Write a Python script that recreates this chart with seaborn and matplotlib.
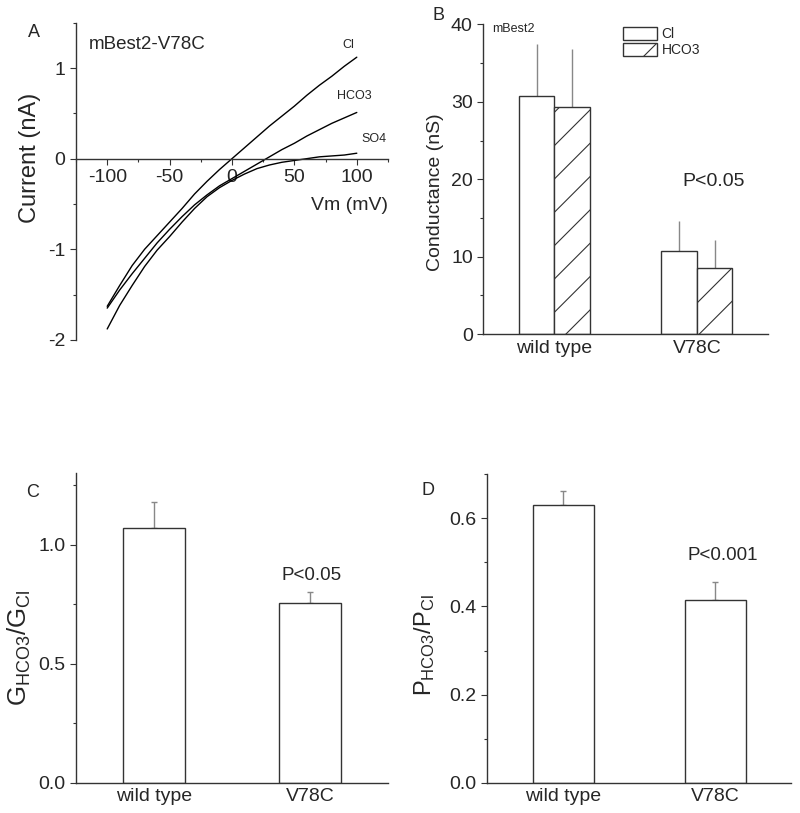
import numpy as np
import pandas as pd
import matplotlib
matplotlib.use('Agg')
import matplotlib.pyplot as plt
from matplotlib.ticker import AutoMinorLocator, MultipleLocator, FormatStrFormatter
import seaborn as sns

# Panel A: I-V traces (read every 10 mV)
voltage = [-100, -90, -80, -70, -60, -50, -40, -30, -20, -10, 0,
           10, 20, 30, 40, 50, 60, 70, 80, 90, 100]
current_cl = [-1.63, -1.40, -1.18, -1.00, -0.85, -0.70, -0.55, -0.39, -0.25, -0.12, 0.00,
              0.12, 0.24, 0.36, 0.47, 0.58, 0.70, 0.81, 0.91, 1.02, 1.12]
current_hco3 = [-1.65, -1.45, -1.27, -1.10, -0.93, -0.78, -0.64, -0.51, -0.40, -0.30, -0.22,
                -0.14, -0.06, 0.02, 0.10, 0.17, 0.25, 0.32, 0.39, 0.45, 0.51]
current_so4 = [-1.88, -1.62, -1.40, -1.19, -1.01, -0.86, -0.70, -0.55, -0.42, -0.32, -0.24,
               -0.17, -0.11, -0.07, -0.04, -0.02, 0.00, 0.02, 0.03, 0.04, 0.06]

# Panel B: conductance
groups = ['wild type', 'V78C']
ions = ['Cl', 'HCO3']
cond_cl = [30.7, 10.75]
cond_cl_err = [6.8, 3.9]
cond_hco3 = [29.3, 8.6]
cond_hco3_err = [7.5, 3.6]

# Panel C: G ratio
g_ratio = [1.07, 0.757]
g_ratio_err = [0.11, 0.043]

# Panel D: P ratio
p_ratio = [0.630, 0.415]
p_ratio_err = [0.031, 0.041]

sns.set_style('ticks')
plt.rcParams['font.family'] = ['Liberation Sans', 'DejaVu Sans']
plt.rcParams['axes.unicode_minus'] = False
plt.rcParams['hatch.color'] = '#666666'
plt.rcParams['hatch.linewidth'] = 0.8

EDGE = '#333333'
ERR = '#888888'

fig = plt.figure(figsize=(8, 8.13), dpi=100)
axA = fig.add_axes([0.095, 0.582, 0.39, 0.39])
axB = fig.add_axes([0.604, 0.589, 0.356, 0.381])
axC = fig.add_axes([0.095, 0.037, 0.39, 0.381])
axD = fig.add_axes([0.609, 0.037, 0.38, 0.38])


def style_ticks(ax):
    ax.tick_params(which='major', direction='out', length=4, width=0.8, labelsize=14,
                   color='#333333')
    ax.tick_params(which='minor', direction='out', length=2.5, width=0.8, color='#333333')
    for s in ['left', 'bottom']:
        ax.spines[s].set_linewidth(1.0)
        ax.spines[s].set_color('#333333')
    for s in ['top', 'right']:
        ax.spines[s].set_visible(False)


def place_ylabel(ax, x, y):
    ax.yaxis.set_label_coords(x, y)
    ax.yaxis.label.set_va('center')


# ---- A ----
iv_df = pd.concat([
    pd.DataFrame({'Vm': voltage, 'I': current_cl, 'ion': 'Cl'}),
    pd.DataFrame({'Vm': voltage, 'I': current_hco3, 'ion': 'HCO3'}),
    pd.DataFrame({'Vm': voltage, 'I': current_so4, 'ion': 'SO4'}),
])
sns.lineplot(data=iv_df, x='Vm', y='I', hue='ion', palette=['black'] * 3,
             errorbar=None, legend=False, linewidth=1.0, ax=axA)
axA.set_xlim(-125, 125)
axA.set_ylim(-2, 1.5)
style_ticks(axA)
axA.spines['bottom'].set_position(('data', 0))
axA.set_xticks([-100, -50, 0, 50, 100])
axA.set_yticks([-2, -1, 0, 1])
axA.xaxis.set_minor_locator(AutoMinorLocator(2))
axA.yaxis.set_minor_locator(AutoMinorLocator(2))
axA.set_xlabel('')
axA.set_ylabel('Current (nA)', fontsize=17)
place_ylabel(axA, -0.147, 0.574)
axA.text(1.0, 0.423, 'Vm (mV)', transform=axA.transAxes, ha='right', va='center', fontsize=14)
axA.text(0.04, 0.93, 'mBest2-V78C', transform=axA.transAxes, ha='left', va='center',
         fontsize=13.5)
axA.text(93, 1.26, 'Cl', ha='center', va='center', fontsize=9)
axA.text(98, 0.69, 'HCO3', ha='center', va='center', fontsize=9)
axA.text(114, 0.22, 'SO4', ha='center', va='center', fontsize=9)
fig.text(0.0425, 0.9606, 'A', fontsize=13, ha='center', va='center')

# ---- B ----
cond_df = pd.DataFrame({
    'group': groups * 2,
    'ion': [ions[0]] * 2 + [ions[1]] * 2,
    'value': cond_cl + cond_hco3,
})
sns.barplot(data=cond_df, x='group', y='value', hue='ion', hue_order=ions, order=groups,
            palette=['white', 'white'], edgecolor=EDGE, linewidth=1.0, width=0.5,
            errorbar=None, legend=False, ax=axB)
for bar in axB.containers[1]:
    bar.set_hatch('/')
for cont, errs in zip(axB.containers, [cond_cl_err, cond_hco3_err]):
    xs = [b.get_x() + b.get_width() / 2 for b in cont]
    hs = [b.get_height() for b in cont]
    axB.errorbar(xs, hs, yerr=[[0] * len(errs), errs], fmt='none', ecolor=ERR,
                 elinewidth=1.0, capsize=0, zorder=0)
axB.set_xlim(-0.5, 1.5)
axB.set_ylim(0, 40)
style_ticks(axB)
axB.yaxis.set_major_locator(MultipleLocator(10))
axB.yaxis.set_minor_locator(AutoMinorLocator(2))
axB.tick_params(axis='x', length=0, labelsize=14, pad=4)
axB.set_xlabel('')
axB.set_ylabel('Conductance (nS)', fontsize=14)
place_ylabel(axB, -0.168, 0.458)
axB.legend(handles=[axB.containers[0][0], axB.containers[1][0]], labels=ions,
           frameon=False, fontsize=10, loc='upper left', bbox_to_anchor=(0.47, 1.01),
           handlelength=2.5, handleheight=1.1, handletextpad=0.3, labelspacing=0.1,
           borderaxespad=0)
axB.text(0.03, 0.985, 'mBest2', transform=axB.transAxes, fontsize=9, ha='left', va='center')
axB.text(1.12, 19.7, 'P<0.05', fontsize=14, ha='center', va='center')
fig.text(0.5475, 0.9815, 'B', fontsize=13, ha='center', va='center')

# ---- C ----
sns.barplot(x=groups, y=g_ratio, color='white', edgecolor=EDGE, linewidth=1.0, width=0.4,
            errorbar=None, ax=axC)
bars = axC.containers[0]
axC.errorbar([b.get_x() + b.get_width() / 2 for b in bars], [b.get_height() for b in bars],
             yerr=[[0, 0], g_ratio_err], fmt='none', ecolor=ERR, elinewidth=1.0,
             capsize=2.5, capthick=1.0, zorder=0)
axC.set_xlim(-0.5, 1.5)
axC.set_ylim(0, 1.3)
style_ticks(axC)
axC.yaxis.set_major_locator(MultipleLocator(0.5))
axC.yaxis.set_minor_locator(AutoMinorLocator(2))
axC.yaxis.set_major_formatter(FormatStrFormatter('%.1f'))
axC.tick_params(axis='x', length=0, labelsize=14, pad=4)
axC.set_ylabel(r'$\mathregular{G_{HCO3}/G_{Cl}}$', fontsize=18.5)
place_ylabel(axC, -0.18, 0.437)
axC.text(1.01, 0.87, 'P<0.05', fontsize=13.5, ha='center', va='center')
fig.text(0.041, 0.394, 'C', fontsize=13, ha='center', va='center')

# ---- D ----
sns.barplot(x=groups, y=p_ratio, color='white', edgecolor=EDGE, linewidth=1.0, width=0.4,
            errorbar=None, ax=axD)
bars = axD.containers[0]
axD.errorbar([b.get_x() + b.get_width() / 2 for b in bars], [b.get_height() for b in bars],
             yerr=[[0, 0], p_ratio_err], fmt='none', ecolor=ERR, elinewidth=1.0,
             capsize=2.5, capthick=1.0, zorder=0)
axD.set_xlim(-0.5, 1.5)
axD.set_ylim(0, 0.7)
style_ticks(axD)
axD.yaxis.set_major_locator(MultipleLocator(0.2))
axD.yaxis.set_minor_locator(AutoMinorLocator(2))
axD.yaxis.set_major_formatter(FormatStrFormatter('%.1f'))
axD.tick_params(axis='x', length=0, labelsize=14, pad=4)
axD.set_ylabel(r'$\mathregular{P_{HCO3}/P_{Cl}}$', fontsize=17)
place_ylabel(axD, -0.207, 0.445)
axD.text(1.05, 0.516, 'P<0.001', fontsize=13.5, ha='center', va='center')
fig.text(0.535, 0.397, 'D', fontsize=13, ha='center', va='center')

fig.savefig('out.png', dpi=100, facecolor='white')
